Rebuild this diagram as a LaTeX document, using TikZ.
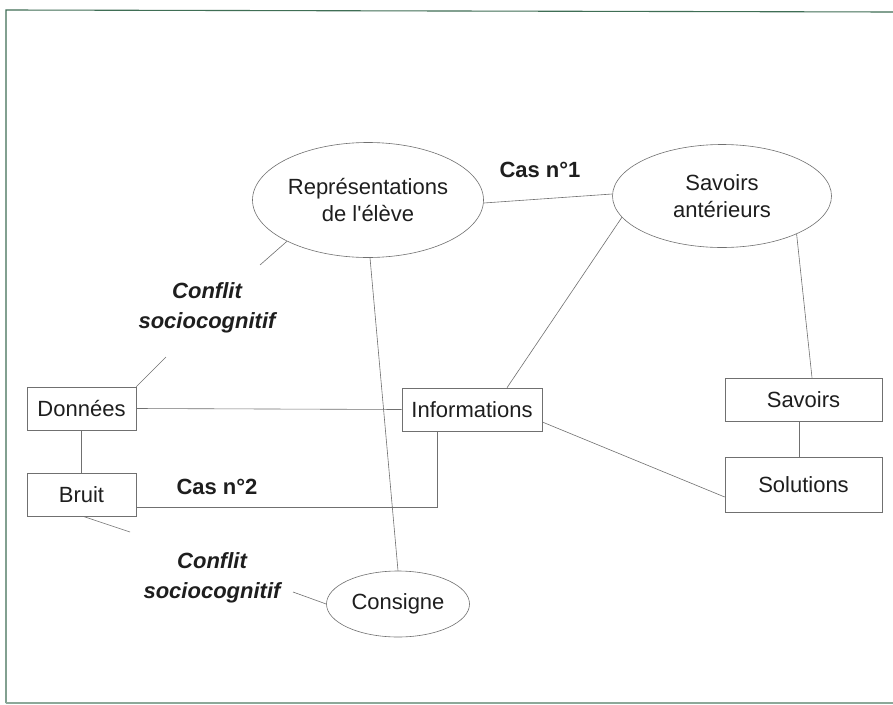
\documentclass[tikz,border=0pt]{standalone}
\usepackage{fontspec}
\setmainfont{Liberation Sans}
\usetikzlibrary{shapes.geometric}
\definecolor{lnc}{HTML}{707070}
\definecolor{txc}{HTML}{1E1E1E}
\definecolor{frm}{HTML}{3F6E55}
\begin{document}
\begin{tikzpicture}[x=1pt,y=-1pt,
  lbl/.style={font=\fontsize{22}{27}\selectfont, text=txc, align=center, inner sep=0pt},
  oval/.style={lbl, draw=lnc, line width=0.6pt, ellipse},
  rbox/.style={lbl, draw=lnc, line width=0.6pt, rectangle},
  link/.style={draw=lnc, line width=0.6pt},
  blbl/.style={lbl, font=\fontsize{22}{27}\selectfont\bfseries},
  bilbl/.style={lbl, font=\fontsize{22}{30}\selectfont\bfseries\itshape}]
\useasboundingbox (0,0) rectangle (893,704);
\fill[white] (0,0) rectangle (893,704);
% frame
\coordinate (f1) at (893,12);
\coordinate (f2) at (6,10);
\coordinate (f3) at (6,703);
\coordinate (f4) at (893,703);
\draw[frm, line width=1.1pt] (f1) -- (f2) -- (f3);
\draw[frm!60, line width=1.1pt] (f3) -- (f4);
% ellipses
\node[oval, minimum width=231pt, minimum height=115pt] (rep) at (368,200) {Représentations\\de l\textquotesingle élève};
\node[oval, minimum width=219pt, minimum height=103pt] (sav) at (722,196) {Savoirs\\antérieurs};
\node[oval, minimum width=143pt, minimum height=66pt] (cons) at (398,604) {Consigne};
% boxes
\node[rbox, minimum width=109pt, minimum height=43pt] (don) at (81.5,408.5) {Données};
\node[rbox, minimum width=109pt, minimum height=43pt] (bru) at (81.5,494.5) {Bruit};
\node[rbox, minimum width=140pt, minimum height=43pt] (inf) at (472,409.5) {Informations};
\node[rbox, minimum width=157pt, minimum height=43pt] (svr) at (803.5,399.5) {Savoirs};
\node[rbox, minimum width=157pt, minimum height=55pt] (sol) at (803.5,484.5) {Solutions};
% labels
\node[blbl] (cas1) at (540,170) {Cas n°1};
\node[blbl] (cas2) at (217,487) {Cas n°2};
\node[bilbl] (cf1) at (207,308) {Conflit\\sociocognitif};
\node[bilbl] (cf2) at (212,578) {Conflit\\sociocognitif};
% stub coordinates
\coordinate (s1) at (260,265);
\coordinate (s2) at (166,357);
\coordinate (s3) at (130,532);
\coordinate (s4) at (293,592);
% connectors
\draw[link] (rep.east |- 0,203) -- (sav.west |- 0,194);
\draw[link] (sav.192) -- (inf.north -| 507,0);
\draw[link] (sav.333) -- (svr.north -| 812,0);
\draw[link] (rep.south) ++(2,0) -- (cons.north);
\draw[link] (rep.207) -- (s1);
\draw[link] (don.north east) -- (s2);
\draw[link] (don.east) -- (inf.west);
\draw[link] (bru.east |- 0,507) -| (inf.south -| 437,0);
\draw[link] (don.south) -- (bru.north);
\draw[link] (bru.south) ++(1.5,0) -- (s3);
\draw[link] (cons.west) -- (s4);
\draw[link] (inf.east |- 0,422) -- (sol.west |- 0,497);
\draw[link] (svr.south -| 799,0) -- (sol.north -| 799,0);
\end{tikzpicture}
\end{document}
